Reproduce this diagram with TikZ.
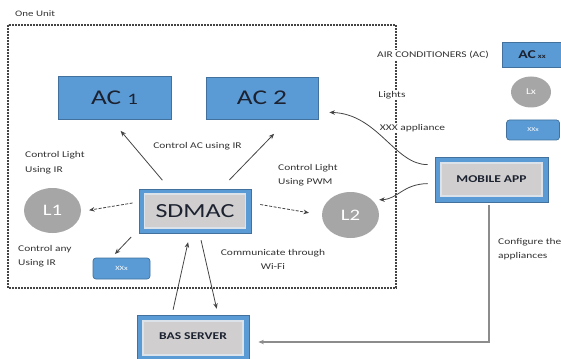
\documentclass[tikz,border=0pt]{standalone}
\usepackage{fontspec}
\setmainfont{Carlito}[FakeStretch=1.3]
\usetikzlibrary{shapes.geometric,arrows.meta}
\definecolor{acblue}{HTML}{5B9BD5}
\definecolor{acborder}{HTML}{41719C}
\definecolor{boxgray}{HTML}{D0CECE}
\definecolor{innerlight}{HTML}{DCE2EA}
\definecolor{ellgray}{HTML}{A6A6A6}
\definecolor{labelcol}{HTML}{333333}
\definecolor{linecol}{HTML}{444444}
\definecolor{conncol}{HTML}{8C8C8C}
\definecolor{actext}{HTML}{1C2230}
\begin{document}
\begin{tikzpicture}[x=1pt,y=-1pt,
  bluebox/.style={rectangle, fill=acblue, draw=acborder, line width=0.8pt, inner sep=0pt, text=actext},
  outerbox/.style={rectangle, fill=acblue, draw=acborder, line width=0.8pt, inner sep=0pt},
  innerbox/.style={rectangle, fill=boxgray, draw=innerlight, line width=1.6pt, inner sep=0pt, text=actext},
  smallbox/.style={rectangle, rounded corners=3pt, fill=acblue, draw=acborder, line width=0.7pt, inner sep=0pt, text=white, font=\fontsize{6.5}{6.5}\selectfont},
  lamp/.style={ellipse, fill=ellgray, draw=none, inner sep=0pt, text=white},
  lbl/.style={font=\fontsize{8.8}{14.5}\selectfont, text=labelcol, inner sep=1pt},
  arr/.style={-{Stealth[length=5.5pt,width=4.5pt]}, draw=linecol, line width=0.8pt},
  dasharr/.style={arr, dash pattern=on 3pt off 1.5pt},
  unitframe/.style={draw=linecol, line width=1.1pt, dash pattern=on 2pt off 1pt}
]
\useasboundingbox (0,0) rectangle (561,358);
\clip (0,0) rectangle (561,358);

% unit frame
\draw[unitframe] (8,25) rectangle (396,288);
\node[lbl, anchor=west, font=\fontsize{8.4}{8.4}\selectfont] (oneunit) at (14,14) {One Unit};

% air conditioners
\node[bluebox, minimum width=113pt, minimum height=43pt] (ac1) at (114.5,97.5)
  {\fontsize{21}{21}\selectfont AC {\fontsize{16}{16}\selectfont 1}};
\node[bluebox, minimum width=112pt, minimum height=42pt] (ac2) at (262,98)
  {\fontsize{21}{21}\selectfont AC 2};

% SDMAC
\node[outerbox, minimum width=112pt, minimum height=44pt] (sdmac) at (195,211) {};
\node[innerbox, minimum width=101pt, minimum height=34pt] (sdmactxt) at (sdmac)
  {\fontsize{20}{20}\selectfont SDMAC};

% lamps and appliance
\node[lamp, minimum width=57pt, minimum height=45pt, font=\fontsize{16}{16}\selectfont] (l1) at (52.5,210.5) {L1};
\node[lamp, minimum width=57pt, minimum height=46pt, font=\fontsize{16}{16}\selectfont] (l2) at (350.5,215) {L2};
\node[smallbox, minimum width=57pt, minimum height=21pt] (xxa) at (121.5,268.5) {XXx};

% BAS server
\node[outerbox, minimum width=112pt, minimum height=46pt] (bas) at (193,338) {};
\node[innerbox, minimum width=100pt, minimum height=34pt] (bastxt) at (bas)
  {\raisebox{4pt}{\bfseries\fontsize{10.4}{10.4}\selectfont BAS SERVER}};

% Mobile app
\node[outerbox, minimum width=113pt, minimum height=45pt] (mob) at (491.5,179.5) {};
\node[innerbox, minimum width=101pt, minimum height=33pt] (mobtxt) at (mob)
  {\bfseries\fontsize{10.4}{10.4}\selectfont MOBILE APP};

% legend
\node[lbl, fill=white] (legac) at (433,55) {AIR CONDITIONERS (AC)};
\node[lbl, fill=white] (leglight) at (392,95) {Lights};
\node[lbl, fill=white] (legxxx) at (412.5,128) {XXX appliance};
\node[bluebox, minimum width=60pt, minimum height=25pt] (acxx) at (532,54.5)
  {\bfseries\fontsize{12}{12}\selectfont AC\,{\fontsize{6.5}{6.5}\selectfont xx}};
\node[lamp, minimum width=40pt, minimum height=31pt, font=\fontsize{9}{9}\selectfont] (lx) at (531,92) {Lx};
\node[smallbox, minimum width=53pt, minimum height=20pt, font=\fontsize{6}{6}\selectfont] (xxb) at (533,130) {XXx};

% labels
\node[lbl] (lblacir) at (197.5,146) {Control AC using IR};
\node[lbl, anchor=west, align=left] (lbll1) at (24,162.5) {Control Light\\Using IR};
\node[lbl, anchor=west, align=left] (lblany) at (17,256) {Control any\\Using IR};
\node[lbl, anchor=west, align=left] (lblpwm) at (277,175) {Control Light\\Using PWM};
\node[lbl, align=center] (lblwifi) at (273,259.5) {Communicate through\\Wi-Fi};
\node[lbl, anchor=west, align=left] (lblconf) at (497,249) {Configure the\\appliances};

% connectors from SDMAC
\draw[arr, shorten <=11pt, shorten >=15pt] ([xshift=-25.5pt]sdmac.north) -- ([xshift=-3.5pt]ac1.south);
\draw[arr, shorten <=12pt, shorten >=20pt] ([xshift=26pt]sdmac.north) -- ([xshift=26pt]ac2.south);
\draw[dasharr, shorten <=6pt, shorten >=8pt] ([yshift=9pt]sdmac.west) -- ([yshift=-1pt]l1.east);
\draw[dasharr, shorten <=9pt, shorten >=13pt] ([yshift=8pt]sdmac.east) -- (l2.west);
\draw[arr, shorten <=5pt, shorten >=5pt] ([xshift=-4pt]sdmac.south west) -- ([xshift=-10pt]xxa.north);
\draw[arr, shorten <=5pt, shorten >=9pt] ([xshift=-21pt]bas.north) -- ([xshift=-5pt]sdmac.south);
\draw[arr, shorten <=7pt, shorten >=6pt] ([xshift=4.5pt]sdmac.south) -- ([xshift=25pt]bas.north);

% connectors from mobile app
\draw[arr, shorten <=7pt, shorten >=11pt] ([yshift=15pt]mob.west)
  .. controls (395,165) and (378,114) .. ([yshift=-14pt]ac2.east);
\draw[arr, shorten <=7pt] ([yshift=-4pt]mob.west)
  .. controls (403,184) and (398,199) .. ([xshift=7pt]l2.35);
\draw[arr, draw=conncol, line width=1.1pt, shorten <=3pt, shorten >=9pt]
  ([xshift=-2.5pt]mob.south) |- ([yshift=-4pt]bas.east);
\end{tikzpicture}
\end{document}
